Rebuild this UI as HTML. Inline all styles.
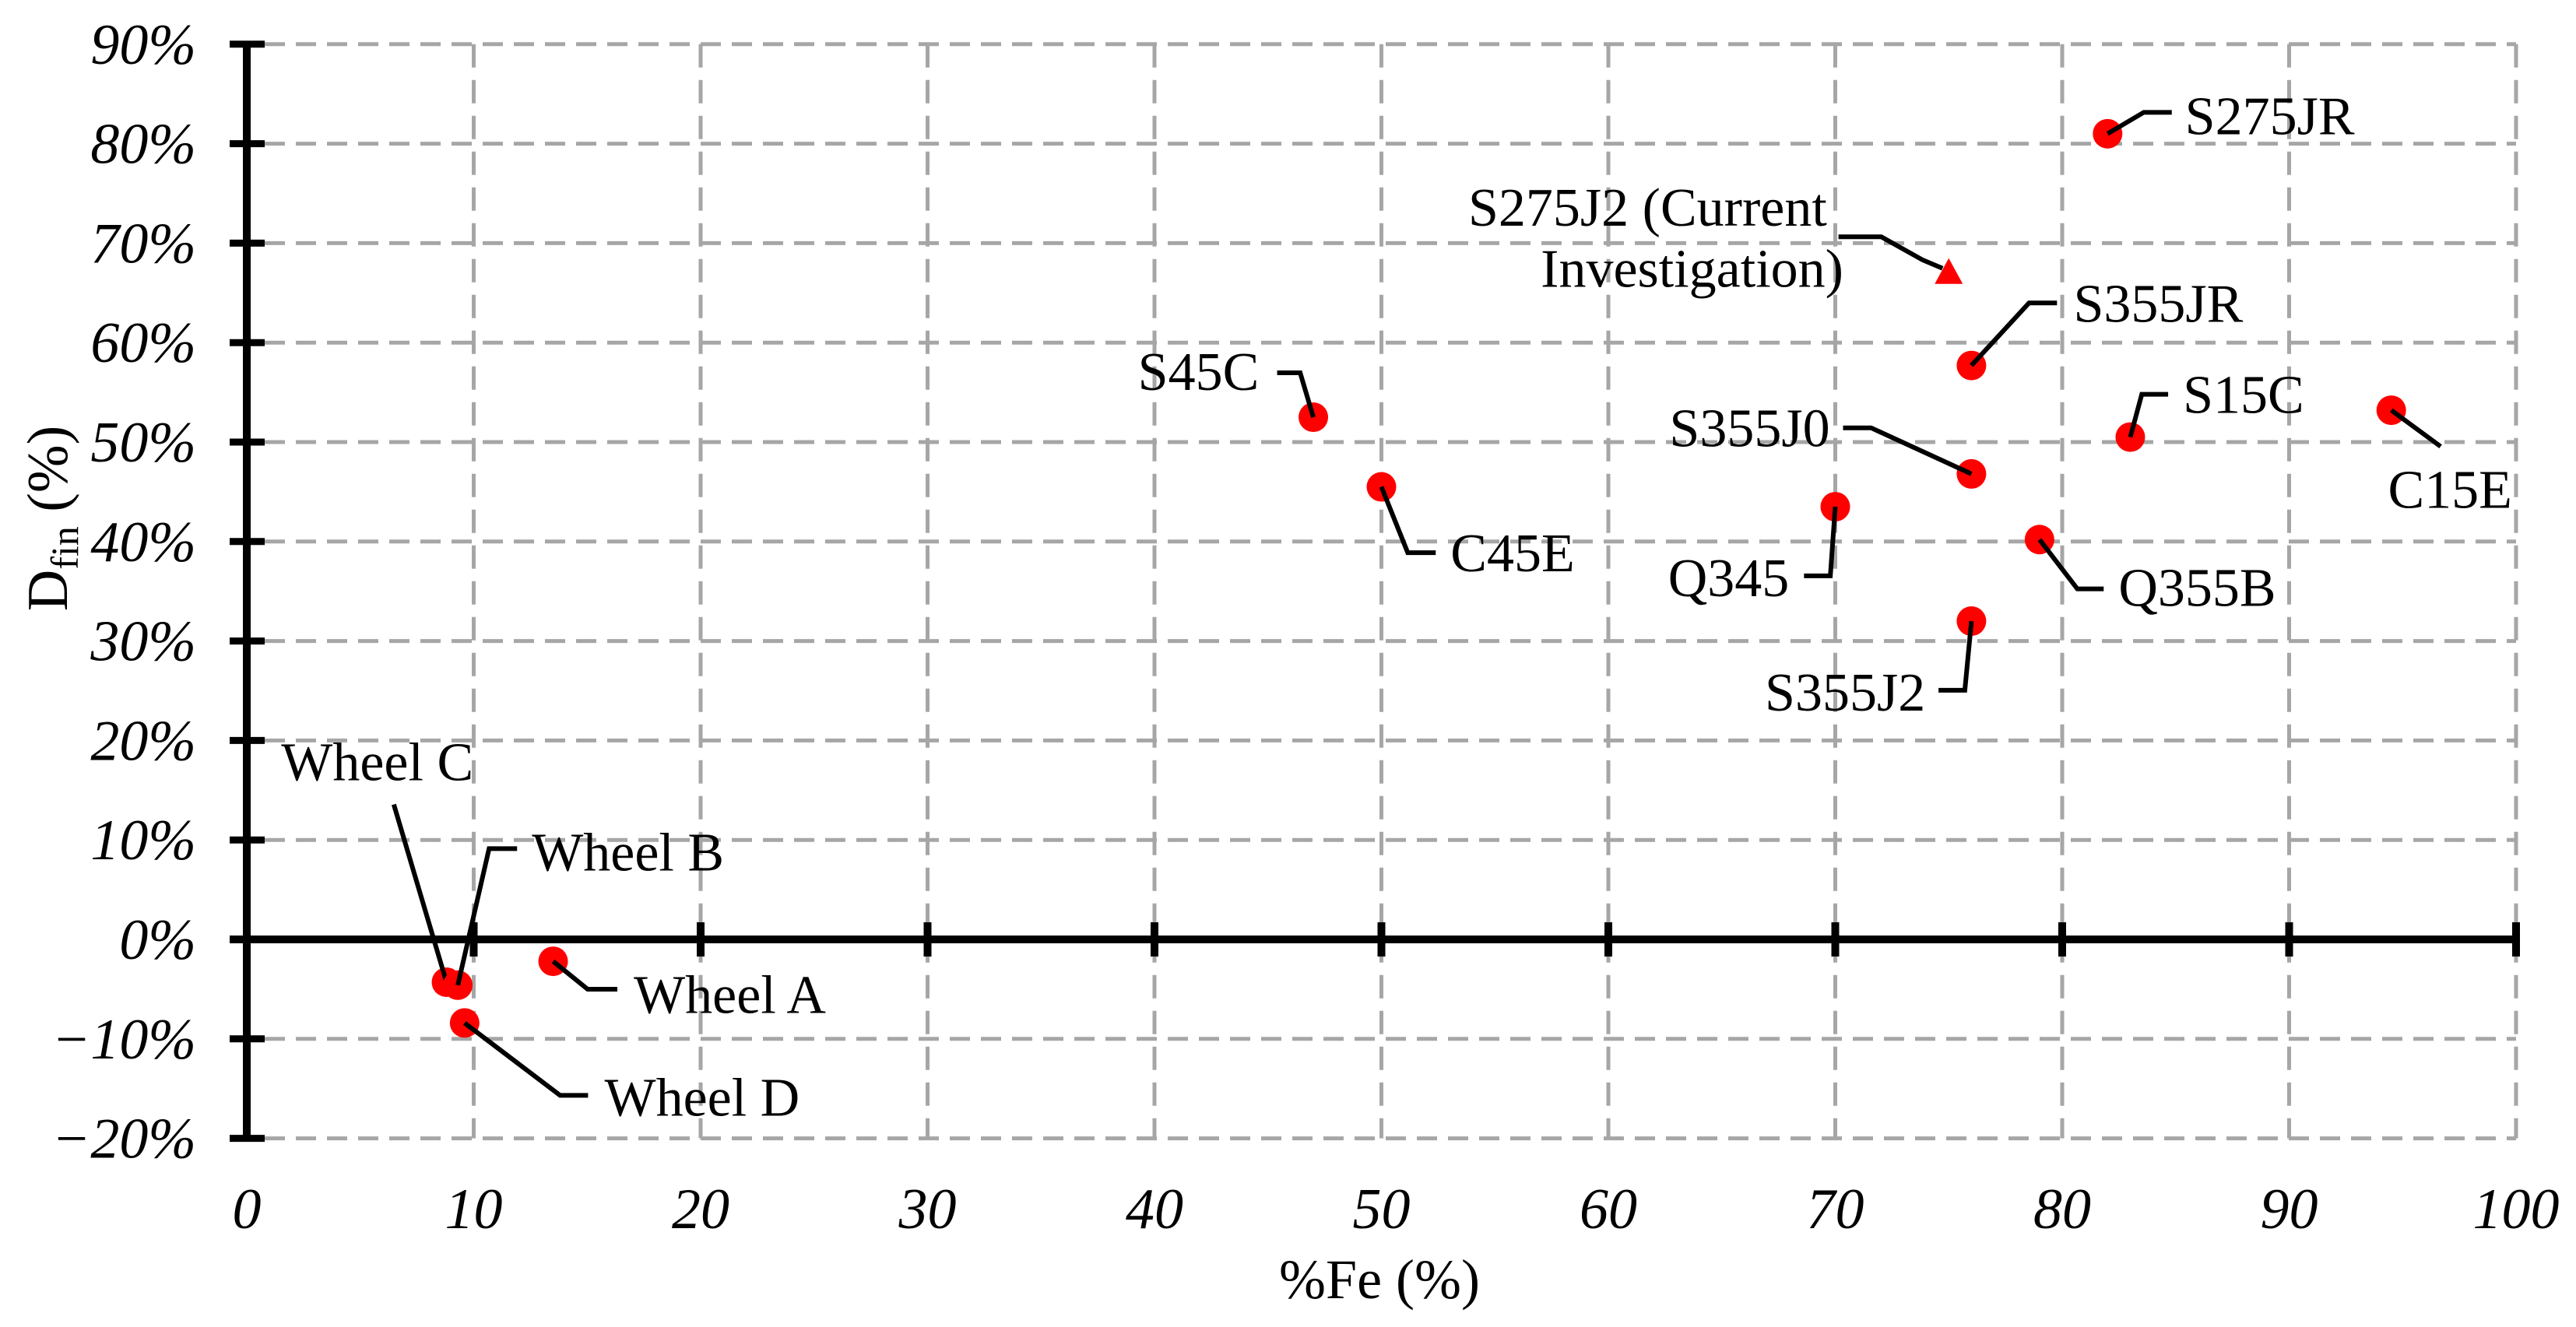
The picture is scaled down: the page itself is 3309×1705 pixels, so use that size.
<!DOCTYPE html>
<html><head><meta charset="utf-8"><style>
html,body{margin:0;padding:0;background:#fff;}
svg{display:block;}
text{font-family:"Liberation Serif",serif;fill:#000;}
</style></head><body>
<svg id="chart" width="3309" height="1705" viewBox="0 0 3309 1705" xmlns="http://www.w3.org/2000/svg">
<g id="grid"></g>
<g id="axes"></g>
<g id="marks"></g>
<text x="1772" y="1668" font-size="72" text-anchor="middle">%Fe (%)</text>
<text transform="translate(86,666) rotate(-90)" font-size="74" text-anchor="middle">D<tspan font-size="50" dy="14">fin</tspan><tspan dy="-14"> (%)</tspan></text>
</svg>
<script>
const names = ["S275JR","S275J2","S355JR","S45C","S15C","C15E","S355J0","C45E","Q345","Q355B","S355J2","Wheel C","Wheel B","Wheel A","Wheel D"];
const feValues = [82,75,76,47,83,94.5,76,50,70,79,76,8.8,9.3,13.5,9.6];
const dfinValues = [81,67,57.7,52.5,50.5,53.2,46.8,45.5,43.5,40.2,32,-4.3,-4.6,-2.2,-8.4];
const xTicks = [0,10,20,30,40,50,60,70,80,90,100];
const yTicks = [-20,-10,0,10,20,30,40,50,60,70,80,90];

const X0=317, X1=3232, Y0=1207, YPER=12.78;
function sx(v){return X0+(X1-X0)*v/100;}
function sy(v){return Y0-v*YPER;}
const NS="http://www.w3.org/2000/svg";
function mk(tag,attrs,parent){const e=document.createElementNS(NS,tag);for(const k in attrs)e.setAttribute(k,attrs[k]);parent.appendChild(e);return e;}
const grid=document.getElementById('grid'),axes=document.getElementById('axes'),marks=document.getElementById('marks');

yTicks.forEach(t=>{
  if(t!==0){const l=mk('line',{x1:340,x2:X1,y1:sy(t),y2:sy(t),stroke:'#a6a6a6','stroke-width':5,'stroke-dasharray':'26,14'},grid);
  
  }
  const tk=mk('line',{x1:295,x2:340,y1:sy(t),y2:sy(t),stroke:'#000','stroke-width':9},axes);
  
  
  const lb=mk('text',{x:252,y:sy(t)+25,'font-size':74,'font-style':'italic','text-anchor':'end'},axes);
  lb.textContent=(t<0?'\u2212'+(-t):t)+'%';
  
  
});
xTicks.forEach(t=>{
  if(t!==0){const l=mk('line',{x1:sx(t),x2:sx(t),y1:sy(90),y2:sy(-20),stroke:'#a6a6a6','stroke-width':5,'stroke-dasharray':'30,16'},grid);
  
  
  const tk=mk('line',{x1:sx(t),x2:sx(t),y1:Y0-22,y2:Y0+22,stroke:'#000','stroke-width':10},axes);
  
  }
  const lb=mk('text',{x:sx(t),y:1578,'font-size':74,'font-style':'italic','text-anchor':'middle'},axes);
  lb.textContent=t;
  
  
});
const ya=mk('line',{x1:X0,x2:X0,y1:sy(90),y2:sy(-20),stroke:'#000','stroke-width':10},axes);


const xa=mk('line',{x1:295,x2:X1,y1:Y0,y2:Y0,stroke:'#000','stroke-width':10},axes);



const K=2.114;
const leaders=[
 {p:[[22,-13],[39,-13]],l:[[47,-11,'start','S275JR']]},
 {p:[[-16,-8],[-41,-22],[-67,-22]],l:[[-74,-40,'end','S275J2 (Current'],[-64,-3,'end','Investigation)']]},
 {p:[[35,-38],[52,-38]],l:[[62,-38,'start','S355JR']]},
 {p:[[-8,-27],[-22,-27]],l:[[-33,-28,'end','S45C']]},
 {p:[[7,-26],[23,-26]],l:[[32,-26,'start','S15C']]},
 {p:[[30,22]],l:[[-2,48,'start','C15E']]},
 {p:[[-61,-28],[-78,-28]],l:[[-86,-28,'end','S355J0']]},
 {p:[[16,40],[33,40]],l:[[42,40,'start','C45E']]},
 {p:[[-3,42],[-19,42]],l:[[-28,43,'end','Q345']]},
 {p:[[23,30],[39,30]],l:[[48,29,'start','Q355B']]},
 {p:[[-4,42],[-20,42]],l:[[-28,43,'end','S355J2']]},
 {p:[[-32,-108]],l:[[-42,-134,'middle','Wheel C']]},
 {p:[[19,-83],[36,-83]],l:[[45,-81,'start','Wheel B']]},
 {p:[[21,17],[39,17]],l:[[49,20,'start','Wheel A']]},
 {p:[[58,44],[75,44]],l:[[85,45,'start','Wheel D']]}
];
names.forEach((n,i)=>{
  const cx=sx(feValues[i]),cy=sy(dfinValues[i]);
  let m;
  if(n==='S275J2'){
    m=mk('polygon',{points:`${cx},${cy-19} ${cx-18},${cy+14} ${cx+18},${cy+14}`,fill:'#ff0000'},marks);
  }else{
    m=mk('circle',{cx:cx,cy:cy,r:19,fill:'#ff0000'},marks);
  }
  
  
  const L=leaders[i];
  const pts=[[cx,cy]].concat(L.p.map(q=>[cx+q[0]*K,cy+q[1]*K]));
  if(n==='S275J2')pts[0]=[cx-8,cy-6];
  const pl=mk('polyline',{points:pts.map(p=>p.join(',')).join(' '),fill:'none',stroke:'#000','stroke-width':6},marks);
  
  
  L.l.forEach(t=>{
    const tx=mk('text',{x:cx+t[0]*K,y:cy+t[1]*K+24,'font-size':70,'text-anchor':t[2]},marks);
    tx.textContent=t[3];
    
    
  });
});
</script>
</body></html>
